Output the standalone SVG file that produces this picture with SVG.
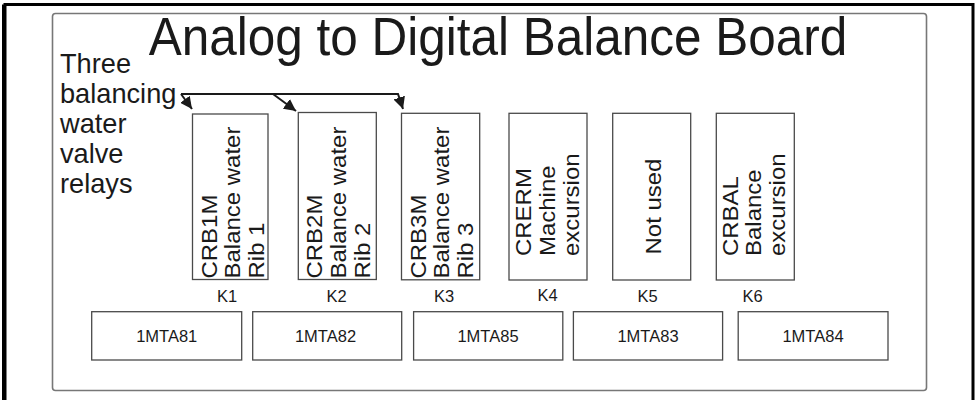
<svg xmlns="http://www.w3.org/2000/svg" width="975" height="400" viewBox="0 0 975 400">
<style>
  text { font-family: "Liberation Sans", Arial, sans-serif; fill: #1a1a1a; }
  .box { fill: #fff; stroke: #4a4a4a; stroke-width: 1.3; }
  .rt { font-size: 22px; }
  .k { font-size: 16.5px; text-anchor: middle; }
  .mta { font-size: 16.5px; text-anchor: middle; }
  .conn { fill: none; stroke: #1a1a1a; stroke-width: 2; }
</style>
<defs>
  <marker id="ah" viewBox="0 0 10 10" refX="10" refY="5" markerWidth="6" markerHeight="6" orient="auto" markerUnits="strokeWidth">
    <path d="M0,0 L10,5 L0,10 Z" fill="#1a1a1a"/>
  </marker>
</defs>
<rect width="975" height="400" fill="#fff"/>
<path d="M5,400 V4.5 H973 V400" fill="none" stroke="#000" stroke-width="3"/>
<path d="M3,400 V4.5" fill="none" stroke="#000" stroke-width="2"/>
<rect x="52.5" y="13.5" width="874" height="377" rx="3" fill="none" stroke="#777" stroke-width="1.6"/>

<g id="title">
  <text transform="translate(498,55) scale(1,1.08)" font-size="49.5" text-anchor="middle">Analog to Digital Balance Board</text>
</g>

<g id="label">
  <text font-size="27.2">
    <tspan x="60" y="73">Three</tspan>
    <tspan x="60" y="103">balancing</tspan>
    <tspan x="60" y="133">water</tspan>
    <tspan x="60" y="163">valve</tspan>
    <tspan x="60" y="192.5">relays</tspan>
  </text>
</g>

<g id="connectors">
  <path class="conn" d="M181,94 H398 L403,109" marker-end="url(#ah)"/>
  <path class="conn" d="M181,94 L192,109" marker-end="url(#ah)"/>
  <path class="conn" d="M273,94 L296,111" marker-end="url(#ah)"/>
</g>

<g id="K1">
  <rect class="box" x="192.5" y="114" width="75.5" height="165.5"/>
  <text class="rt" transform="translate(216.5,278.5) scale(1,1.09) rotate(-90)">
    <tspan x="0" y="0">CRB1M</tspan><tspan x="0" y="24">Balance water</tspan><tspan x="0" y="48">Rib 1</tspan>
  </text>
  <text class="k" x="227" y="302">K1</text>
</g>
<g id="K2">
  <rect class="box" x="298.3" y="112.5" width="78" height="167"/>
  <text class="rt" transform="translate(322.3,278.5) scale(1,1.09) rotate(-90)">
    <tspan x="0" y="0">CRB2M</tspan><tspan x="0" y="24">Balance water</tspan><tspan x="0" y="48">Rib 2</tspan>
  </text>
  <text class="k" x="336.5" y="302">K2</text>
</g>
<g id="K3">
  <rect class="box" x="401.5" y="113.3" width="78.2" height="166.5"/>
  <text class="rt" transform="translate(425.5,278.5) scale(1,1.09) rotate(-90)">
    <tspan x="0" y="0">CRB3M</tspan><tspan x="0" y="24">Balance water</tspan><tspan x="0" y="48">Rib 3</tspan>
  </text>
  <text class="k" x="444" y="302">K3</text>
</g>
<g id="K4">
  <rect class="box" x="509" y="113.3" width="78" height="166.7"/>
  <text class="rt" transform="translate(531,256) scale(1,1.09) rotate(-90)">
    <tspan x="0" y="0">CRERM</tspan><tspan x="0" y="24">Machine</tspan><tspan x="0" y="48">excursion</tspan>
  </text>
  <text class="k" x="547.5" y="301">K4</text>
</g>
<g id="K5">
  <rect class="box" x="612.7" y="113.3" width="78" height="166.7"/>
  <text class="rt" transform="translate(660.5,254.5) scale(1,1.09) rotate(-90)">
    <tspan x="0" y="0">Not used</tspan>
  </text>
  <text class="k" x="647.5" y="302">K5</text>
</g>
<g id="K6">
  <rect class="box" x="716.3" y="113.3" width="78" height="166.7"/>
  <text class="rt" transform="translate(737.5,256) scale(1,1.09) rotate(-90)">
    <tspan x="0" y="0">CRBAL</tspan><tspan x="0" y="24">Balance</tspan><tspan x="0" y="48">excursion</tspan>
  </text>
  <text class="k" x="752.5" y="302">K6</text>
</g>

<g id="MTA81">
  <rect class="box" x="91.7" y="311.7" width="150" height="48.3"/>
  <text class="mta" x="166.7" y="341.7">1MTA81</text>
</g>
<g id="MTA82">
  <rect class="box" x="252.7" y="311.7" width="149" height="48.3"/>
  <text class="mta" x="325.5" y="341.7">1MTA82</text>
</g>
<g id="MTA85">
  <rect class="box" x="413.6" y="311.7" width="149.2" height="48.3"/>
  <text class="mta" x="488" y="341.7">1MTA85</text>
</g>
<g id="MTA83">
  <rect class="box" x="573.4" y="311.7" width="149.2" height="48.3"/>
  <text class="mta" x="648" y="341.7">1MTA83</text>
</g>
<g id="MTA84">
  <rect class="box" x="738.2" y="311.7" width="149.8" height="48.3"/>
  <text class="mta" x="813" y="341.7">1MTA84</text>
</g>
</svg>
